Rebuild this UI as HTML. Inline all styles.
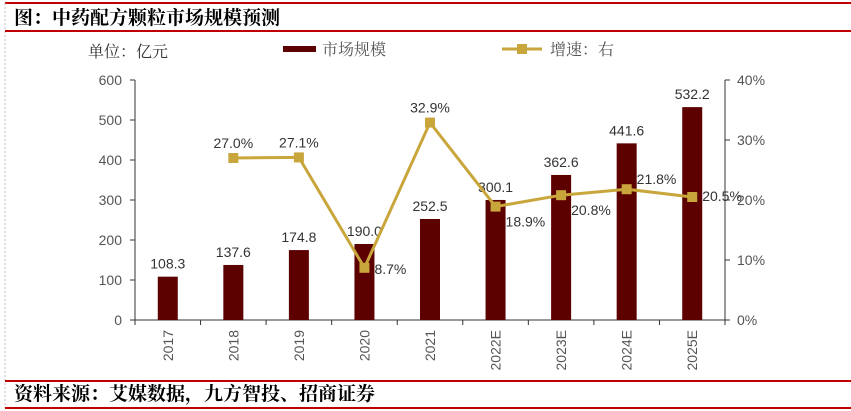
<!DOCTYPE html>
<html><head><meta charset="utf-8"><style>
body{margin:0;background:#fff;width:851px;height:411px;overflow:hidden;font-family:"Liberation Sans","Noto Sans CJK SC",sans-serif;}
</style></head><body>
<svg width="851" height="411" style="position:absolute;left:0;top:0">
<line x1="5" y1="3" x2="851" y2="3" stroke="#c00000" stroke-width="2"/>
<line x1="5" y1="3" x2="5" y2="408" stroke="#bbb" stroke-dasharray="2,2"/>
<text x="14" y="24" font-family="'Noto Serif CJK SC',serif" font-weight="bold" font-size="19" fill="#000">图：中药配方颗粒市场规模预测</text>
<line x1="5" y1="31" x2="851" y2="31" stroke="#c00000" stroke-width="2"/>
<text x="88" y="57" font-family="'Noto Serif CJK SC',serif" font-size="16" fill="#333">单位：亿元</text>
<rect x="283" y="46" width="33" height="6" fill="#5c0000"/>
<text x="322" y="55" font-family="'Noto Serif CJK SC',serif" font-size="16" fill="#555">市场规模</text>
<line x1="502" y1="49" x2="542" y2="49" stroke="#c9a63c" stroke-width="3"/>
<rect x="517" y="44" width="10" height="10" fill="#c9a63c"/>
<text x="550" y="55" font-family="'Noto Serif CJK SC',serif" font-size="16" fill="#555">增速：右</text>
<g id="plot"></g>
<line x1="5" y1="381" x2="851" y2="381" stroke="#c00000" stroke-width="2"/>
<text x="14" y="400" font-family="'Noto Serif CJK SC',serif" font-weight="bold" font-size="19" fill="#000">资料来源：艾媒数据，九方智投、招商证券</text>
<line x1="5" y1="408" x2="851" y2="408" stroke="#c00000" stroke-width="2"/>
</svg>
<script>
const categories=["2017","2018","2019","2020","2021","2022E","2023E","2024E","2025E"];
const marketSize=[108.3,137.6,174.8,190.0,252.5,300.1,362.6,441.6,532.2];
const growth=[null,27.0,27.1,8.7,32.9,18.9,20.8,21.8,20.5];
const leftTicks=[0,100,200,300,400,500,600];
const rightTicks=[0,10,20,30,40];
const NS="http://www.w3.org/2000/svg";
const g=document.getElementById('plot');
const X0=135,X1=725,Y0=320,Y1=80;
const step=(X1-X0)/categories.length;
const xc=i=>X0+step*(i+0.5);
const yL=v=>Y0-(v/600)*(Y0-Y1);
const yR=v=>Y0-(v/40)*(Y0-Y1);
function mk(t,a,txt){const e=document.createElementNS(NS,t);for(const k in a)e.setAttribute(k,a[k]);if(txt!=null)e.textContent=txt;g.appendChild(e);return e;}
let e;
e=mk('line',{x1:X0,y1:Y1,x2:X0,y2:Y0,stroke:'#333'});


e=mk('line',{x1:X1,y1:Y1,x2:X1,y2:Y0,stroke:'#333'});


e=mk('line',{x1:X0,y1:Y0,x2:X1,y2:Y0,stroke:'#333'});


leftTicks.forEach(v=>{
 mk('line',{x1:X0-5,y1:yL(v),x2:X0,y2:yL(v),stroke:'#333'});
 e=mk('text',{x:X0-13,y:yL(v)+5,'text-anchor':'end','font-size':14,fill:'#555'},v);
 
 
});
rightTicks.forEach(v=>{
 mk('line',{x1:X1,y1:yR(v),x2:X1+5,y2:yR(v),stroke:'#333'});
 e=mk('text',{x:X1+12,y:yR(v)+5,'font-size':14,fill:'#555'},v+'%');
 
 
});
for(let i=0;i<=categories.length;i++){mk('line',{x1:X0+step*i,y1:Y0,x2:X0+step*i,y2:Y0+5,stroke:'#333'});}
categories.forEach((c,i)=>{
 const bw=20;
 e=mk('rect',{x:xc(i)-bw/2,y:yL(marketSize[i]),width:bw,height:Y0-yL(marketSize[i]),fill:'#5c0000'});
 
 
 e=mk('text',{x:xc(i),y:yL(marketSize[i])-8,'text-anchor':'middle','font-size':14,fill:'#333'},marketSize[i].toFixed(1));
 
 
 e=mk('text',{x:0,y:0,'text-anchor':'end','font-size':14,fill:'#555',transform:`translate(${xc(i)+5},${Y0+10}) rotate(-90)`},c);
 
 
});
const pts=[];growth.forEach((v,i)=>{if(v!=null)pts.push([xc(i),yR(v)]);});
e=mk('polyline',{points:pts.map(p=>p.join(',')).join(' '),fill:'none',stroke:'#c9a63c','stroke-width':3});


const below={3:1,5:1,6:1};
growth.forEach((v,i)=>{
 if(v==null)return;
 e=mk('rect',{x:xc(i)-5,y:yR(v)-5,width:10,height:10,fill:'#c9a63c'});
 
 
 let lx=xc(i),ly=yR(v)-10,anchor='middle';
 if(below[i]){lx=xc(i)+10;ly=yR(v)+20;anchor='start';if(i==3)ly=yR(v)+6;}
 if(i>=7){lx=xc(i)+10;ly=yR(v)-5;anchor='start';if(i==8)ly=yR(v)+4;}
 e=mk('text',{x:lx,y:ly,'text-anchor':anchor,'font-size':14,fill:'#333'},v.toFixed(1)+'%');
 
 
});
</script>
</body></html>
